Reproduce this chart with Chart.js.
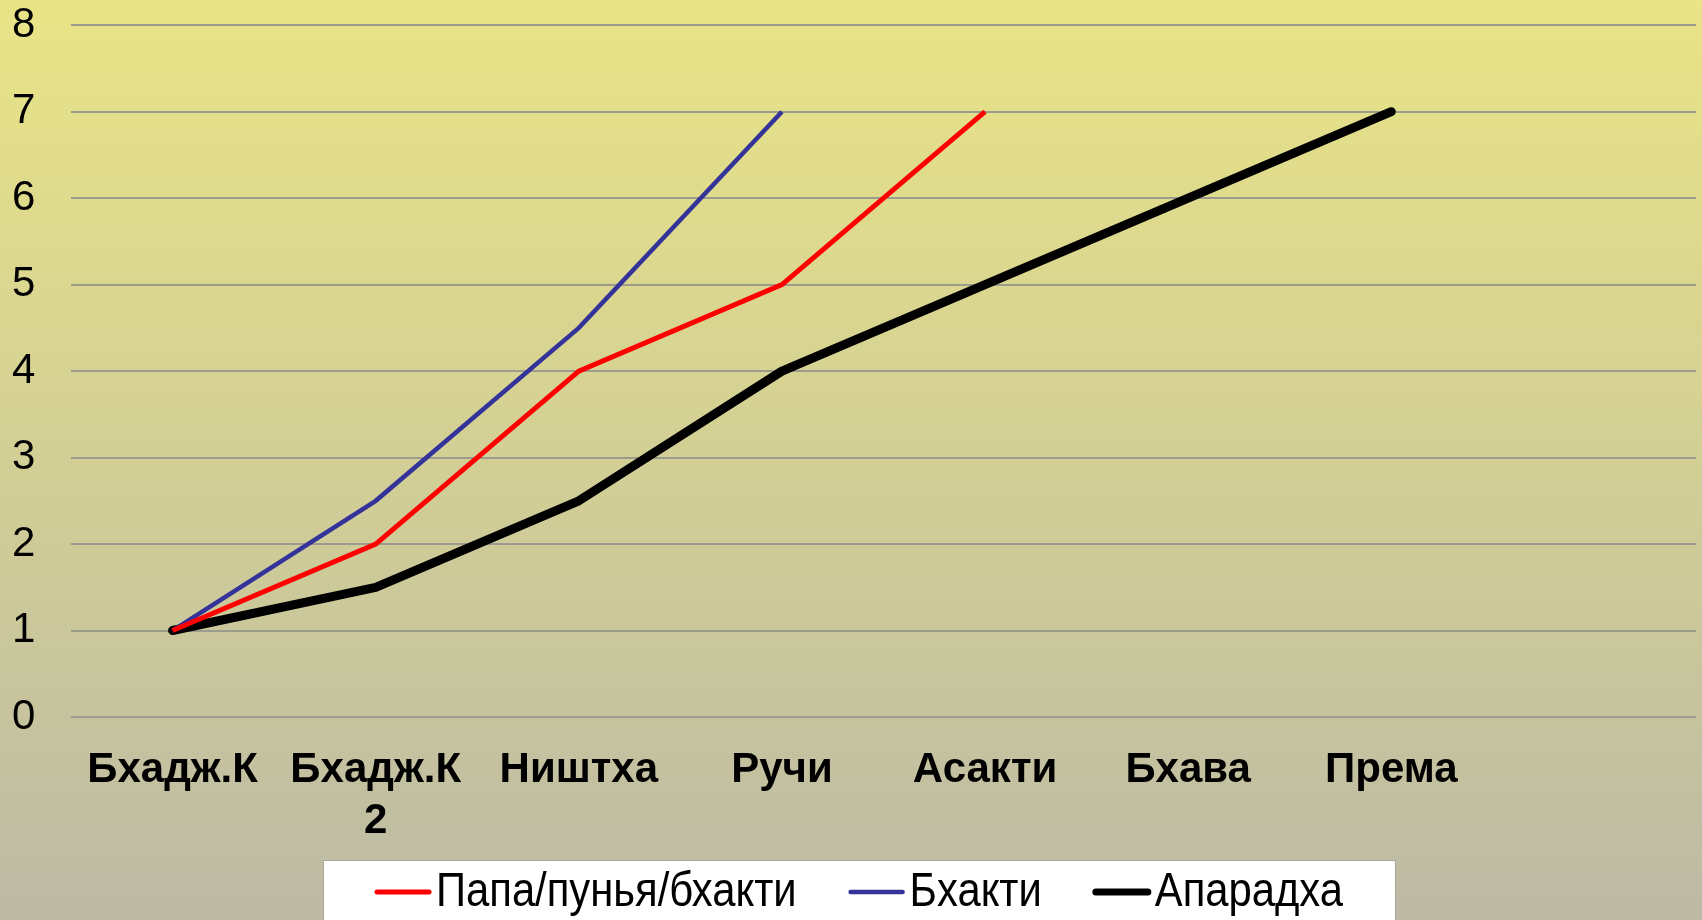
<!DOCTYPE html>
<html>
<head>
<meta charset="utf-8">
<script src="https://cdn.jsdelivr.net/npm/chart.js@4/dist/chart.umd.min.js"></script>
<style>
  html, body { margin: 0; padding: 0; }
  #wrap { width: 1702px; height: 920px; }
</style>
</head>
<body>
<div id="wrap"><canvas id="mychart" width="1702" height="920"></canvas></div>
<script>
'use strict';

var stages = ['Бхадж.К', ['Бхадж.К', '2'], 'Ништха', 'Ручи', 'Асакти', 'Бхава', 'Према', ''];
var papaValues = [1, 2, 4, 5, 7, null, null, null];
var bhaktiValues = [1, 2.5, 4.5, 7, null, null, null, null];
var aparadhaValues = [1, 1.5, 2.5, 4, 5, 6, 7, null];
var yTicks = [0, 1, 2, 3, 4, 5, 6, 7, 8];

var fontFamily = "'Liberation Sans', Arial, sans-serif";

// background gradient
var backdrop = {
    id: 'backdrop',
    beforeDraw: function (chart) {
        var ctx = chart.ctx;
        var g = ctx.createLinearGradient(0, 0, 0, chart.height);
        g.addColorStop(0, '#e9e486');
        g.addColorStop(1, '#bcbaa5');
        ctx.save();
        ctx.fillStyle = g;
        ctx.fillRect(0, 0, chart.width, chart.height);
        ctx.restore();
    }
};

// legend in a white box, narrow text like the original slide
var boxLegend = {
    id: 'boxLegend',
    afterDraw: function (chart) {
        var ctx = chart.ctx;
        var squeeze = 0.87;
        var lineLen = 56, gap = 5, itemGap = 52, side = 52;
        var top = 860, midY = 892;
        ctx.save();
        ctx.font = '48px ' + fontFamily;
        var sets = chart.data.datasets;
        var widths = sets.map(function (ds) { return ctx.measureText(ds.label).width * squeeze; });
        var total = 0;
        widths.forEach(function (w, i) { total += lineLen + gap + w + (i ? itemGap : 0); });
        var x = chart.width / 2 - total / 2 + 8;
        ctx.fillStyle = '#ffffff';
        ctx.fillRect(x - side, top, total + side * 2, chart.height - top);
        ctx.strokeStyle = '#a8a898';
        ctx.lineWidth = 1;
        ctx.strokeRect(x - side + 0.5, top + 0.5, total + side * 2, chart.height - top + 2);
        sets.forEach(function (ds, i) {
            ctx.strokeStyle = ds.borderColor;
            ctx.lineWidth = ds.legendWidth;
            ctx.lineCap = 'round';
            ctx.beginPath();
            ctx.moveTo(x + 2, midY);
            ctx.lineTo(x + lineLen - 2, midY);
            ctx.stroke();
            ctx.save();
            ctx.translate(x + lineLen + gap, midY);
            ctx.scale(squeeze, 1);
            ctx.fillStyle = '#000000';
            ctx.textBaseline = 'middle';
            ctx.fillText(ds.label, 0, 1);
            ctx.restore();
            x += lineLen + gap + widths[i] + itemGap;
        });
        ctx.restore();
    }
};

var mychart = document.getElementById('mychart').getContext('2d');
var linechart = new Chart(mychart, {
    type: 'line',
    data: {
        labels: stages,
        datasets: [{
            label: 'Папа/пунья/бхакти',
            data: papaValues,
            borderColor: '#ff0000',
            borderWidth: 5,
            legendWidth: 5
        }, {
            label: 'Бхакти',
            data: bhaktiValues,
            borderColor: '#333399',
            borderWidth: 4.5,
            legendWidth: 4.5
        }, {
            label: 'Апарадха',
            data: aparadhaValues,
            borderColor: '#000000',
            borderWidth: 9,
            legendWidth: 7,
            borderCapStyle: 'round',
            borderJoinStyle: 'round'
        }]
    },
    options: {
        responsive: false,
        animation: false,
        elements: {
            point: { radius: 0, hoverRadius: 0 },
            line: { tension: 0 }
        },
        layout: {
            padding: { top: 0, right: 6, left: 12, bottom: 60 }
        },
        plugins: {
            tooltip: { enabled: false },
            legend: { display: false }
        },
        scales: {
            x: {
                offset: true,
                grid: { display: false, drawTicks: false },
                border: { display: false },
                ticks: {
                    autoSkip: false,
                    maxRotation: 0,
                    padding: 28,
                    color: '#000000',
                    font: { family: fontFamily, size: 42, weight: 'bold', lineHeight: 1.22 }
                },
                afterFit: function (scale) { scale.height = 143; }
            },
            y: {
                min: 0,
                max: 8,
                afterBuildTicks: function (scale) {
                    scale.ticks = yTicks.map(function (v) { return { value: v }; });
                },
                grid: { color: '#9c9c8e', lineWidth: 2, drawTicks: false },
                border: { display: false },
                ticks: {
                    padding: 0,
                    crossAlign: 'far',
                    color: '#000000',
                    font: { family: fontFamily, size: 42 }
                },
                afterFit: function (scale) { scale.width = 59; }
            }
        }
    },
    plugins: [backdrop, boxLegend]
});
</script>
</body>
</html>
